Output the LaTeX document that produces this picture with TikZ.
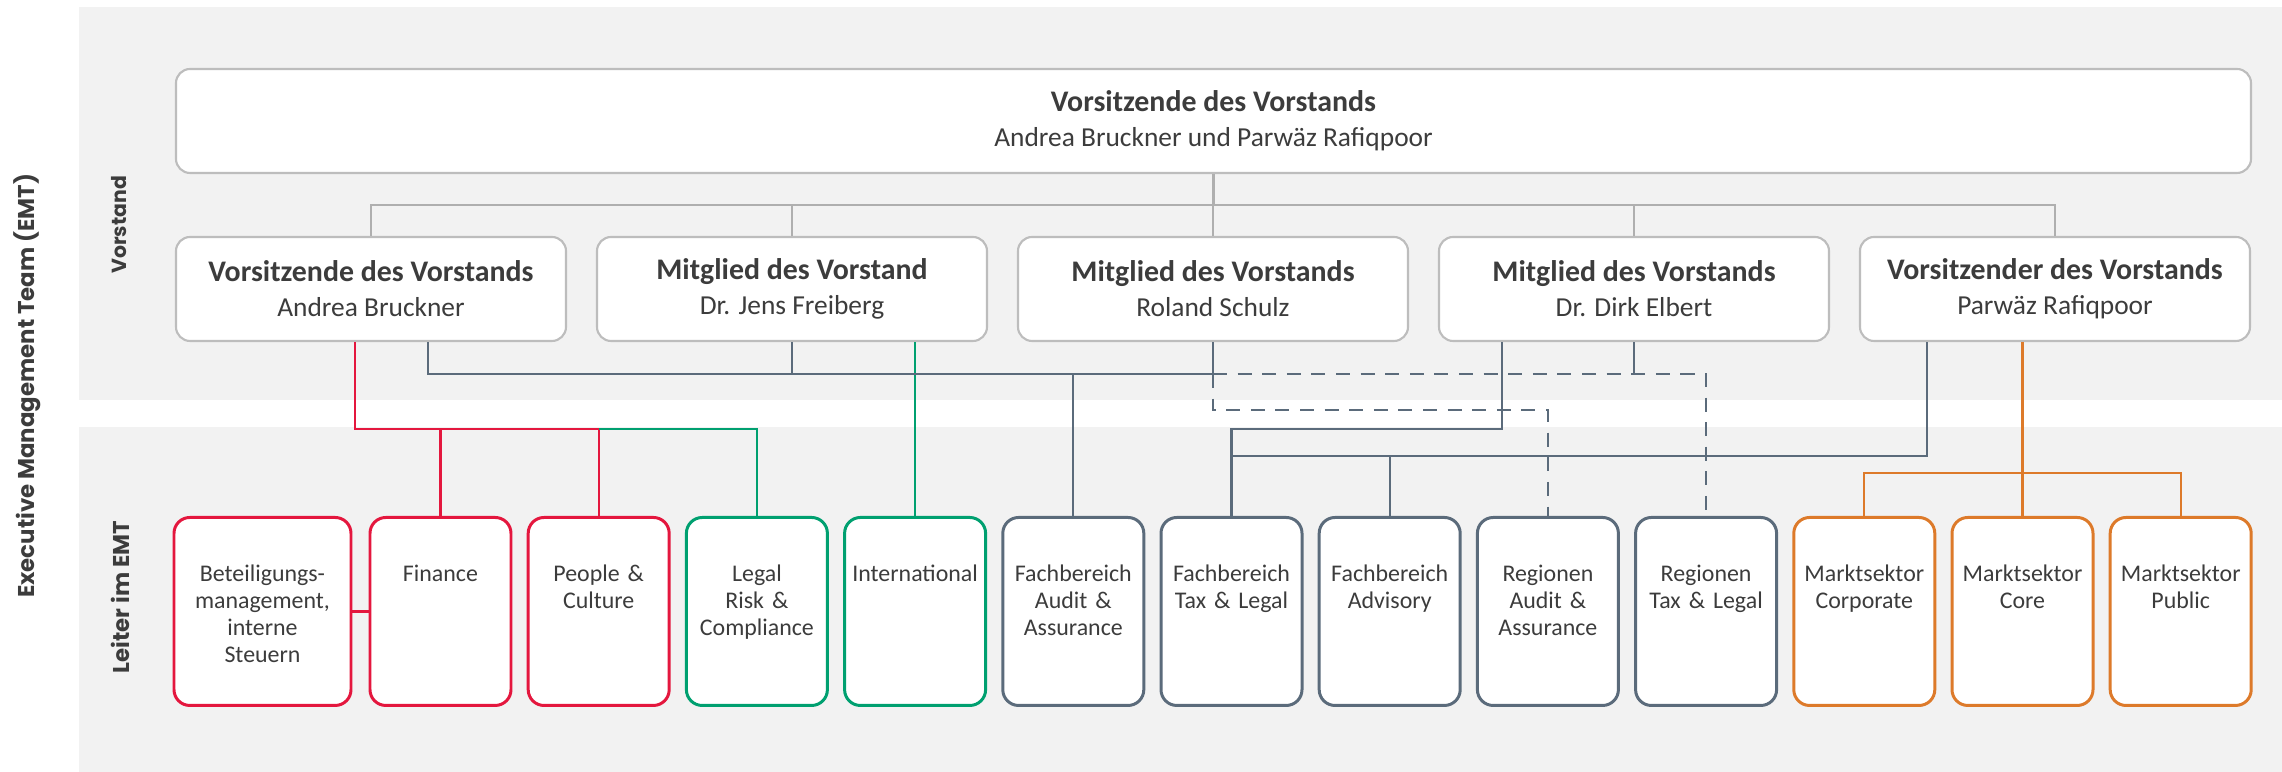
\documentclass[tikz,border=0pt]{standalone}
\usepackage{fontspec}
\setmainfont{Carlito}
\newfontfamily\lblfont{Poppins}
\usetikzlibrary{positioning,calc}

\definecolor{panelgrey}{HTML}{F2F2F2}
\definecolor{boxgrey}{HTML}{BDBDBD}
\definecolor{linegrey}{HTML}{AFAFAF}
\definecolor{txt}{HTML}{3C3C3C}
\definecolor{emtred}{HTML}{E4173E}
\definecolor{emtgreen}{HTML}{00A070}
\definecolor{emtslate}{HTML}{5B6B7B}
\definecolor{emtorange}{HTML}{DD7A2A}

\newcommand{\boardtitle}[1]{{\fontsize{8.5}{10}\selectfont\bfseries #1}}

\begin{document}
\begin{tikzpicture}[
    head/.style={draw=boxgrey, line width=0.6pt, fill=white, rounded corners=4pt, minimum height=1.04cm, align=center, text=txt, font=\fontsize{7.8}{10}\selectfont},
    leiter/.style={draw=#1, line width=0.85pt, fill=white, rounded corners=4.5pt, minimum width=1.41cm, text width=1.3cm, inner xsep=0pt, inner ysep=0pt, align=center, text height=0.64cm, text depth=1.24cm, text=txt, font=\fontsize{6.8}{7.7}\selectfont, anchor=north},
    conn/.style={line width=0.6pt, draw=#1},
    side/.style={rotate=90, text=txt, font=\lblfont\bfseries\fontsize{6.5}{7}\selectfont}
]
\useasboundingbox (0,0) rectangle (22.82,-7.72);
\fill[panelgrey] (0.79,-0.07) rectangle (22.82,-4.00);
\fill[panelgrey] (0.79,-4.27) rectangle (22.82,-7.72);

\node[side] (emt) at (0.27,-3.86) {Executive Management Team (EMT)};
\node[side, font=\lblfont\bfseries\fontsize{5.8}{6}\selectfont] (vorstand) at (1.19,-2.25) {Vorstand};
\node[side] (leiterlbl) at (1.20,-5.97) {Leiter im EMT};

% Vorstand
\node[head, minimum width=20.75cm] (T) at (12.135,-1.21) {\boardtitle{Vorsitzende des Vorstands}\\Andrea Bruckner und Parwäz Rafiqpoor};
\node[head, minimum width=3.9cm] (B1) at (3.71,-2.89) {\boardtitle{Vorsitzende des Vorstands}\\Andrea Bruckner};
\node[head, minimum width=3.9cm] (B2) at (7.92,-2.89) {\boardtitle{Mitglied des Vorstand}\\Dr. Jens Freiberg};
\node[head, minimum width=3.9cm] (B3) at (12.13,-2.89) {\boardtitle{Mitglied des Vorstands}\\Roland Schulz};
\node[head, minimum width=3.9cm] (B4) at (16.34,-2.89) {\boardtitle{Mitglied des Vorstands}\\Dr. Dirk Elbert};
\node[head, minimum width=3.9cm] (B5) at (20.55,-2.89) {\boardtitle{Vorsitzender des Vorstands}\\Parwäz Rafiqpoor};

% Leiter im EMT
\node[leiter=emtred, minimum width=1.77cm, text width=1.6cm] (L1) at (2.625,-5.16) {Beteiligungs-\\management,\\interne\\Steuern};
\node[leiter=emtred] (L2) at (4.405,-5.16) {Finance};
\node[leiter=emtred] (L3) at (5.987,-5.16) {People \&\\Culture};
\node[leiter=emtgreen] (L4) at (7.569,-5.16) {Legal\\Risk \&\\Compliance};
\node[leiter=emtgreen] (L5) at (9.151,-5.16) {International};
\node[leiter=emtslate] (L6) at (10.733,-5.16) {Fachbereich\\Audit \&\\Assurance};
\node[leiter=emtslate] (L7) at (12.315,-5.16) {Fachbereich\\Tax \& Legal};
\node[leiter=emtslate] (L8) at (13.897,-5.16) {Fachbereich\\Advisory};
\node[leiter=emtslate] (L9) at (15.479,-5.16) {Regionen\\Audit \&\\Assurance};
\node[leiter=emtslate] (L10) at (17.061,-5.16) {Regionen\\Tax \& Legal};
\node[leiter=emtorange] (L11) at (18.643,-5.16) {Marktsektor\\Corporate};
\node[leiter=emtorange] (L12) at (20.225,-5.16) {Marktsektor\\Core};
\node[leiter=emtorange] (L13) at (21.807,-5.16) {Marktsektor\\Public};

\coordinate (gbus) at (0,-2.05);
\coordinate (sbus) at (0,-3.74);
\coordinate (dbus) at (0,-4.10);
\coordinate (rbus) at (0,-4.29);
\coordinate (sbus2) at (0,-4.56);
\coordinate (obus) at (0,-4.73);

% grey
\draw[conn=linegrey] (T.south) -- (T.south |- gbus);
\draw[conn=linegrey] (B1.north) |- (B5.north |- gbus) -- (B5.north);
\draw[conn=linegrey] (B2.north) -- (B2.north |- gbus);
\draw[conn=linegrey] (B3.north) -- (B3.north |- gbus);
\draw[conn=linegrey] (B4.north) -- (B4.north |- gbus);

% red and green
\draw[conn=emtred] ([xshift=-1.6mm]B1.south) |- (L3.north |- rbus) -- (L3.north);
\draw[conn=emtred] (L2.north) -- (L2.north |- rbus);
\draw[conn=emtred] (L1.east) -- (L2.west);
\draw[conn=emtgreen] (L3.north |- rbus) -| (L4.north);
\draw[conn=emtgreen] (L5.north |- B2.south) -- (L5.north);

% slate
\draw[conn=emtslate] ([xshift=5.7mm]B1.south) |- (B3.south |- sbus) -- (B3.south);
\draw[conn=emtslate] (B2.south) -- (B2.south |- sbus);
\draw[conn=emtslate] (L6.north) -- (L6.north |- sbus);
\draw[conn=emtslate] (B4.south) -- (B4.south |- sbus);
\draw[conn=emtslate, dashed, dash pattern=on 4pt off 3pt] (B3.south |- sbus) -| (L10.north);
\draw[conn=emtslate, dashed, dash pattern=on 4pt off 3pt] (B3.south |- sbus) -- (B3.south |- dbus) -| (L9.north);
\draw[conn=emtslate] ([xshift=-13.2mm]B4.south) |- (L7.north |- rbus) -- (L7.north);
\draw[conn=emtslate] ([xshift=-12.8mm]B5.south) |- (L7.north |- sbus2);
\draw[conn=emtslate] (L8.north) -- (L8.north |- sbus2);

% orange
\draw[conn=emtorange] (L12.north |- B5.south) -- (L12.north);
\draw[conn=emtorange] (L11.north) |- (L13.north |- obus) -- (L13.north);
\end{tikzpicture}
\end{document}
